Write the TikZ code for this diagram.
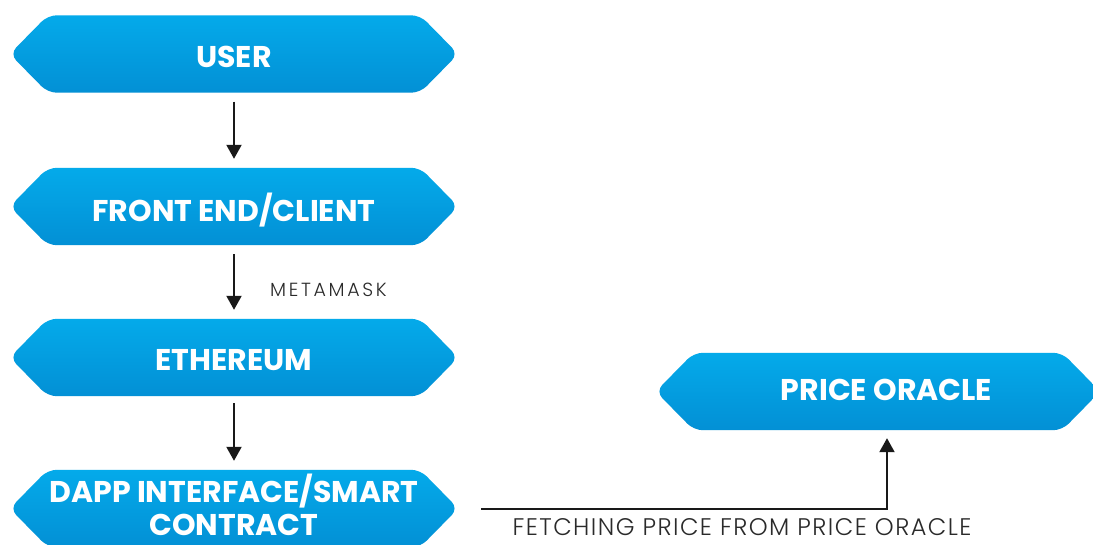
\documentclass[tikz,border=0pt]{standalone}
\usepackage{fontspec}
\setmainfont{Poppins}
\newfontfamily\lightfont{Poppins Light}
\usetikzlibrary{arrows.meta,backgrounds,calc}
\definecolor{hextop}{HTML}{04AAEA}
\definecolor{hexbot}{HTML}{0390D5}
\definecolor{labelgray}{HTML}{2A2A2A}
\tikzset{
  hexbox/.style={minimum width=448pt, minimum height=77pt, inner sep=0pt},
  hexlbl/.style={text=white, font=\fontsize{30}{33}\selectfont\bfseries, align=center, inner sep=0pt},
  hexfill/.style={rounded corners=9pt, top color=hextop, bottom color=hexbot, draw=none},
  arr/.style={line width=2pt, draw=black!90, -{Triangle[width=15pt,length=14pt]}},
  lbl/.style={text=labelgray, inner sep=0pt}
}
\begin{document}
\begin{tikzpicture}[x=1pt,y=-1pt]
\useasboundingbox (0,0) rectangle (1093,545);
\node[hexbox, label={[hexlbl, name=userT, yshift=-3pt]center:USER}] (user) at (234,54) {};
\node[hexbox, label={[hexlbl, name=frontT, yshift=-4pt]center:FRONT END/CLIENT}] (front) at (234,206.5) {};
\node[hexbox, label={[hexlbl, name=ethT, yshift=-2.5pt]center:ETHEREUM}] (eth) at (234,357.5) {};
\node[hexbox, label={[hexlbl, name=dappT, text depth=0pt, yshift=4pt]center:DAPP INTERFACE/SMART\\CONTRACT}] (dapp) at (234,508.5) {};
\node[hexbox, minimum width=444pt, label={[hexlbl, name=oracleT, xshift=8.5pt, yshift=1.5pt]center:PRICE ORACLE}] (oracle) at (878,391.5) {};
\begin{scope}[on background layer]
\fill[white] (0,0) rectangle (1093,545);
\foreach \n in {user,front,eth,dapp,oracle}{
  \path[hexfill] (\n.west) -- ([xshift=38pt]\n.north west) -- ([xshift=-38pt]\n.north east)
    -- (\n.east) -- ([xshift=-38pt]\n.south east) -- ([xshift=38pt]\n.south west) -- cycle;
}
\end{scope}
\draw[arr, shorten <=9pt, shorten >=9pt] (user.south) -- (front.north);
\draw[arr, shorten <=9pt, shorten >=9pt] (front.south) -- (eth.north);
\draw[arr, shorten <=7pt, shorten >=9pt] (eth.south) -- (dapp.north);
\node[lbl, anchor=west, font={\lightfont\fontsize{19}{22}\selectfont\addfontfeature{LetterSpace=14}}] (meta) at (270,290) {METAMASK};
\draw[arr, shorten >=8pt] ([xshift=23pt]dapp.east) -| ([xshift=9pt]oracle.south);
\node[lbl, font={\lightfont\fontsize{24}{28}\selectfont\addfontfeature{LetterSpace=6}}] (fetch) at (742,527.5) {FETCHING PRICE FROM PRICE ORACLE};
\end{tikzpicture}
\end{document}
